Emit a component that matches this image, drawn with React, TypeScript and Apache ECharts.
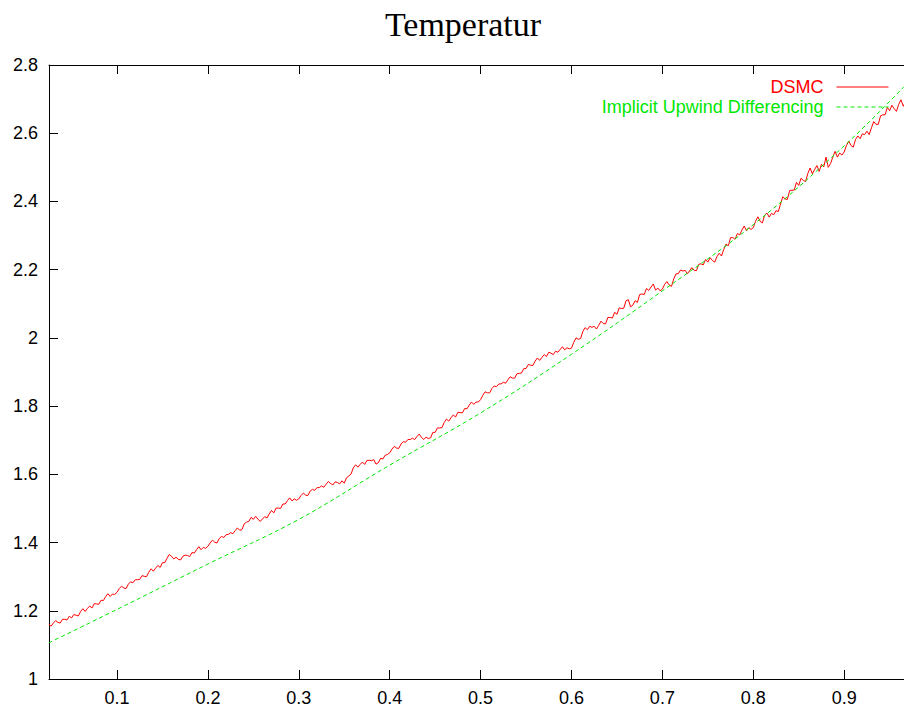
import React, { useEffect, useRef } from "react";
import * as echarts from "echarts";

const TITLE = "Temperatur";
const SERIES_NAMES = ["DSMC", "Implicit Upwind Differencing"];

// DSMC samples: cell positions start at DSMC_X0 with spacing DSMC_DX
const DSMC_X0 = 0.025;
const DSMC_DX = 0.0025;
const dsmcValues = [
  1.16, 1.155, 1.164, 1.171, 1.166, 1.164, 1.175, 1.175, 1.173, 1.184,
  1.179, 1.189, 1.187, 1.185, 1.198, 1.206, 1.198, 1.207, 1.214, 1.208,
  1.221, 1.22, 1.219, 1.231, 1.23, 1.241, 1.25, 1.242, 1.249, 1.248,
  1.254, 1.265, 1.272, 1.267, 1.265, 1.278, 1.285, 1.282, 1.291, 1.291,
  1.292, 1.303, 1.301, 1.3, 1.313, 1.323, 1.316, 1.325, 1.333, 1.327,
  1.341, 1.341, 1.354, 1.365, 1.36, 1.352, 1.357, 1.351, 1.349, 1.36,
  1.363, 1.362, 1.359, 1.371, 1.369, 1.379, 1.388, 1.379, 1.386, 1.383,
  1.389, 1.399, 1.407, 1.401, 1.399, 1.412, 1.418, 1.415, 1.423, 1.424,
  1.429, 1.426, 1.435, 1.443, 1.436, 1.438, 1.455, 1.46, 1.462, 1.474,
  1.468, 1.477, 1.469, 1.462, 1.469, 1.476, 1.472, 1.484, 1.494, 1.487,
  1.501, 1.501, 1.5, 1.513, 1.513, 1.523, 1.531, 1.522, 1.528, 1.524,
  1.528, 1.538, 1.545, 1.539, 1.538, 1.551, 1.556, 1.553, 1.561, 1.561,
  1.566, 1.562, 1.571, 1.579, 1.573, 1.569, 1.578, 1.576, 1.572, 1.581,
  1.574, 1.59, 1.595, 1.601, 1.619, 1.628, 1.621, 1.629, 1.636, 1.629,
  1.641, 1.641, 1.64, 1.643, 1.63, 1.634, 1.647, 1.645, 1.656, 1.658,
  1.663, 1.674, 1.682, 1.677, 1.676, 1.689, 1.696, 1.694, 1.702, 1.702,
  1.706, 1.702, 1.711, 1.718, 1.708, 1.702, 1.709, 1.705, 1.707, 1.723,
  1.723, 1.736, 1.736, 1.737, 1.752, 1.762, 1.756, 1.766, 1.774, 1.768,
  1.782, 1.781, 1.78, 1.793, 1.792, 1.803, 1.812, 1.805, 1.812, 1.812,
  1.819, 1.832, 1.842, 1.839, 1.839, 1.852, 1.859, 1.857, 1.865, 1.865,
  1.87, 1.867, 1.877, 1.886, 1.882, 1.882, 1.895, 1.896, 1.897, 1.91,
  1.91, 1.922, 1.92, 1.919, 1.932, 1.941, 1.934, 1.943, 1.951, 1.945,
  1.958, 1.955, 1.951, 1.961, 1.958, 1.966, 1.974, 1.965, 1.971, 1.968,
  1.97, 1.987, 2.0, 1.996, 1.998, 2.019, 2.03, 2.024, 2.034, 2.031,
  2.034, 2.026, 2.037, 2.049, 2.042, 2.041, 2.06, 2.06, 2.058, 2.075,
  2.069, 2.088, 2.086, 2.087, 2.109, 2.112, 2.091, 2.096, 2.109, 2.104,
  2.127, 2.129, 2.127, 2.145, 2.139, 2.149, 2.158, 2.14, 2.146, 2.138,
  2.143, 2.157, 2.165, 2.155, 2.151, 2.173, 2.188, 2.188, 2.199, 2.196,
  2.198, 2.188, 2.197, 2.206, 2.198, 2.197, 2.216, 2.217, 2.214, 2.23,
  2.222, 2.235, 2.227, 2.222, 2.238, 2.248, 2.24, 2.259, 2.275, 2.27,
  2.294, 2.294, 2.289, 2.306, 2.302, 2.316, 2.328, 2.314, 2.323, 2.318,
  2.323, 2.342, 2.355, 2.342, 2.337, 2.36, 2.366, 2.354, 2.365, 2.361,
  2.373, 2.37, 2.393, 2.414, 2.407, 2.406, 2.432, 2.433, 2.433, 2.456,
  2.447, 2.468, 2.462, 2.458, 2.482, 2.498, 2.481, 2.494, 2.505, 2.488,
  2.509, 2.501, 2.53, 2.5, 2.511, 2.53, 2.547, 2.53, 2.542, 2.536,
  2.545, 2.564, 2.577, 2.564, 2.559, 2.582, 2.592, 2.584, 2.598, 2.596,
  2.606, 2.596, 2.616, 2.634, 2.626, 2.626, 2.651, 2.654, 2.654, 2.676,
  2.666, 2.682, 2.672, 2.664, 2.685, 2.698, 2.679, 2.692,
];

// Implicit Upwind Differencing curve (read points)
const iudX = [0.025, 0.1, 0.2, 0.3, 0.4, 0.5, 0.6, 0.7, 0.8, 0.9, 0.966];
const iudY = [1.106, 1.204, 1.337, 1.468, 1.627, 1.78, 1.952, 2.138, 2.332, 2.563, 2.737];

const xTickValues = [0.1, 0.2, 0.3, 0.4, 0.5, 0.6, 0.7, 0.8, 0.9];
const X_MIN = 0.0252;
const X_MAX = 0.9658;
const Y_MIN = 1;
const Y_MAX = 2.8;
const Y_STEP = 0.2;

const RED = "#ff0000";
const GREEN = "#00e600";
const SANS = "'Liberation Sans', Arial, Helvetica, sans-serif";

export default function App() {
  const ref = useRef<HTMLDivElement>(null);

  useEffect(() => {
    if (!ref.current) return;
    const chart = echarts.init(ref.current, null, { renderer: "svg" });

    const dsmcData = dsmcValues.map((v, i) => [DSMC_X0 + i * DSMC_DX, v]);
    const iudData = iudX.map((x, i) => [x, iudY[i]]);

    const tickCommon = {
      inside: true,
      length: 9,
      lineStyle: { color: "#000", width: 1 },
      customValues: xTickValues,
    };

    chart.setOption({
      animation: false,
      backgroundColor: "#ffffff",
      graphic: [
        {
          type: "text",
          x: 463,
          y: 24,
          style: {
            text: TITLE,
            fontFamily: "'Liberation Serif', 'Times New Roman', serif",
            fontSize: 34,
            fill: "#000",
            textAlign: "center",
            textVerticalAlign: "middle",
          },
        },
      ],
      grid: { left: 49, right: 0, top: 65, bottom: 32, containLabel: false },
      legend: {
        orient: "vertical",
        right: 10,
        top: 73,
        align: "right",
        itemWidth: 52,
        itemHeight: 14,
        itemGap: 2,
        itemStyle: { opacity: 0, color: "transparent", borderWidth: 0 },
        lineStyle: { width: 1 },
        textStyle: { fontFamily: SANS, fontSize: 18, lineHeight: 18, padding: [0, 8, 0, 0] },
        data: [
          { name: SERIES_NAMES[0], textStyle: { color: RED } },
          { name: SERIES_NAMES[1], textStyle: { color: GREEN } },
        ],
      },
      xAxis: [
        {
          type: "value",
          position: "bottom",
          min: X_MIN,
          max: X_MAX,
          axisLine: { show: true, onZero: false, lineStyle: { color: "#000", width: 1 } },
          axisTick: tickCommon,
          splitLine: { show: false },
          axisLabel: {
            customValues: xTickValues,
            color: "#000",
            fontFamily: SANS,
            fontSize: 18,
            margin: 10,
          },
        },
        {
          type: "value",
          position: "top",
          min: X_MIN,
          max: X_MAX,
          axisLine: { show: true, onZero: false, lineStyle: { color: "#000", width: 1 } },
          axisTick: tickCommon,
          splitLine: { show: false },
          axisLabel: { show: false },
        },
      ],
      yAxis: {
        type: "value",
        min: Y_MIN,
        max: Y_MAX,
        interval: Y_STEP,
        axisLine: { show: true, onZero: false, lineStyle: { color: "#000", width: 1 } },
        axisTick: { show: true, inside: true, length: 9, lineStyle: { color: "#000", width: 1 } },
        splitLine: { show: false },
        axisLabel: {
          color: "#000",
          fontFamily: SANS,
          fontSize: 18,
          margin: 11,
        },
      },
      series: [
        {
          name: SERIES_NAMES[0],
          type: "line",
          data: dsmcData,
          showSymbol: false,
          symbol: "none",
          lineStyle: { color: RED, width: 1 },
          itemStyle: { color: RED },
          clip: true,
        },
        {
          name: SERIES_NAMES[1],
          type: "line",
          data: iudData,
          smooth: 0.4,
          showSymbol: false,
          symbol: "none",
          lineStyle: { color: GREEN, width: 1, type: [4, 3] },
          itemStyle: { color: GREEN },
          clip: true,
        },
      ],
    });

    return () => chart.dispose();
  }, []);

  return (
    <div
      ref={ref}
      style={{ position: "absolute", left: 0, top: 0, width: 904, height: 711 }}
    />
  );
}
